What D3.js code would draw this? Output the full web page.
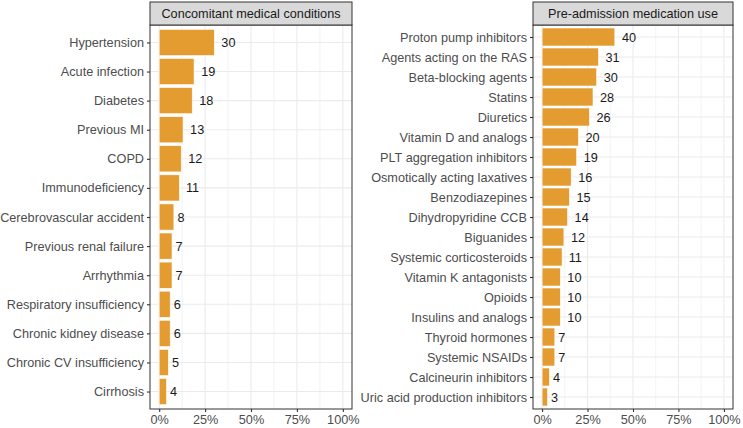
<!DOCTYPE html>
<html>
<head>
<meta charset="utf-8">
<script src="https://cdn.jsdelivr.net/npm/d3@7"></script>
<style>
  body { margin: 0; background: #fff; }
  text { font-family: "Liberation Sans", Arial, sans-serif; }
</style>
</head>
<body>
<svg width="743" height="428"></svg>
<script>
// left facet
var conditions = ["Hypertension", "Acute infection", "Diabetes", "Previous MI", "COPD",
    "Immunodeficiency", "Cerebrovascular accident", "Previous renal failure", "Arrhythmia",
    "Respiratory insufficiency", "Chronic kidney disease", "Chronic CV insufficiency", "Cirrhosis"];
var conditionPct = [30, 19, 18, 13, 12, 11, 8, 7, 7, 6, 6, 5, 4];

// right facet
var medications = ["Proton pump inhibitors", "Agents acting on the RAS", "Beta-blocking agents",
    "Statins", "Diuretics", "Vitamin D and analogs", "PLT aggregation inhibitors",
    "Osmotically acting laxatives", "Benzodiazepines", "Dihydropyridine CCB", "Biguanides",
    "Systemic corticosteroids", "Vitamin K antagonists", "Opioids", "Insulins and analogs",
    "Thyroid hormones", "Systemic NSAIDs", "Calcineurin inhibitors", "Uric acid production inhibitors"];
var medicationPct = [40, 31, 30, 28, 26, 20, 19, 16, 15, 14, 12, 11, 10, 10, 10, 7, 7, 4, 3];

var xTicks = [0, 0.25, 0.5, 0.75, 1];
var xMinor = [0.125, 0.375, 0.625, 0.875];

var svg = d3.select("svg");
var fs = 12.7;
var barColor = "#E49B30";

function facet(title, cats, vals, x0, x1) {
    var top = 25, bottom = 409;
    var g = svg.append("g");

    var x = d3.scaleLinear().domain([-0.05, 1.05]).range([x0, x1]);
    var y = d3.scalePoint().domain(cats).range([top, bottom]).padding(0.6);
    var step = y.step();

    // panel background + grid
    g.append("rect").attr("x", x0).attr("y", top).attr("width", x1 - x0).attr("height", bottom - top)
        .attr("fill", "#fff");
    g.selectAll(".minor").data(xMinor).enter().append("line")
        .attr("x1", function(d) { return x(d); }).attr("x2", function(d) { return x(d); })
        .attr("y1", top).attr("y2", bottom)
        .attr("stroke", "#EBEBEB").attr("stroke-width", 0.6);
    g.selectAll(".major").data(xTicks).enter().append("line")
        .attr("x1", function(d) { return x(d); }).attr("x2", function(d) { return x(d); })
        .attr("y1", top).attr("y2", bottom)
        .attr("stroke", "#EBEBEB").attr("stroke-width", 1.1);
    g.selectAll(".hgrid").data(cats).enter().append("line")
        .attr("x1", x0).attr("x2", x1)
        .attr("y1", function(d) { return y(d); }).attr("y2", function(d) { return y(d); })
        .attr("stroke", "#EBEBEB").attr("stroke-width", 1.1);

    // bars
    var data = cats.map(function(c, i) { return { cat: c, v: vals[i] }; });
    g.selectAll(".bar").data(data).enter().append("rect")
        .attr("x", x(0))
        .attr("y", function(d) { return y(d.cat) - step * 0.45; })
        .attr("width", function(d) { return x(d.v / 100) - x(0); })
        .attr("height", step * 0.9)
        .attr("fill", barColor)
        .attr("stroke", "#fff").attr("stroke-width", 0.6);

    // value labels (hjust = -0.5)
    g.selectAll(".val").data(data).enter().append("text")
        .attr("y", function(d) { return y(d.cat); })
        .attr("dy", "0.36em")
        .attr("font-size", fs).attr("fill", "#1a1a1a")
        .text(function(d) { return d.v; })
        .attr("x", function(d) { return x(d.v / 100) + this.getComputedTextLength() * 0.5; });

    // panel border
    g.append("rect").attr("x", x0).attr("y", top).attr("width", x1 - x0).attr("height", bottom - top)
        .attr("fill", "none").attr("stroke", "#333").attr("stroke-width", 1);

    // strip
    g.append("rect").attr("x", x0).attr("y", 2).attr("width", x1 - x0).attr("height", top - 2)
        .attr("fill", "#D9D9D9").attr("stroke", "#333").attr("stroke-width", 1);
    g.append("text").attr("x", (x0 + x1) / 2).attr("y", (top + 2) / 2).attr("dy", "0.36em")
        .attr("text-anchor", "middle").attr("font-size", fs).attr("fill", "#1A1A1A")
        .text(title);

    // axes
    var yAxis = d3.axisLeft(y).tickSize(3).tickPadding(3);
    var ya = g.append("g").attr("transform", "translate(" + x0 + ",0)").call(yAxis);
    var xAxis = d3.axisBottom(x).tickValues(xTicks).tickSize(3).tickPadding(3)
        .tickFormat(d3.format(".0%"));
    var xa = g.append("g").attr("transform", "translate(0," + bottom + ")").call(xAxis);
    [ya, xa].forEach(function(a) {
        a.select(".domain").remove();
        a.selectAll(".tick line").attr("stroke", "#333").attr("stroke-width", 1.1);
        a.selectAll(".tick text").attr("font-size", fs).attr("fill", "#4D4D4D")
            .attr("font-family", "Liberation Sans, Arial, sans-serif");
    });
}

facet("Concomitant medical conditions", conditions, conditionPct, 150, 352);
facet("Pre-admission medication use", medications, medicationPct, 533, 733);
</script>
</body>
</html>
